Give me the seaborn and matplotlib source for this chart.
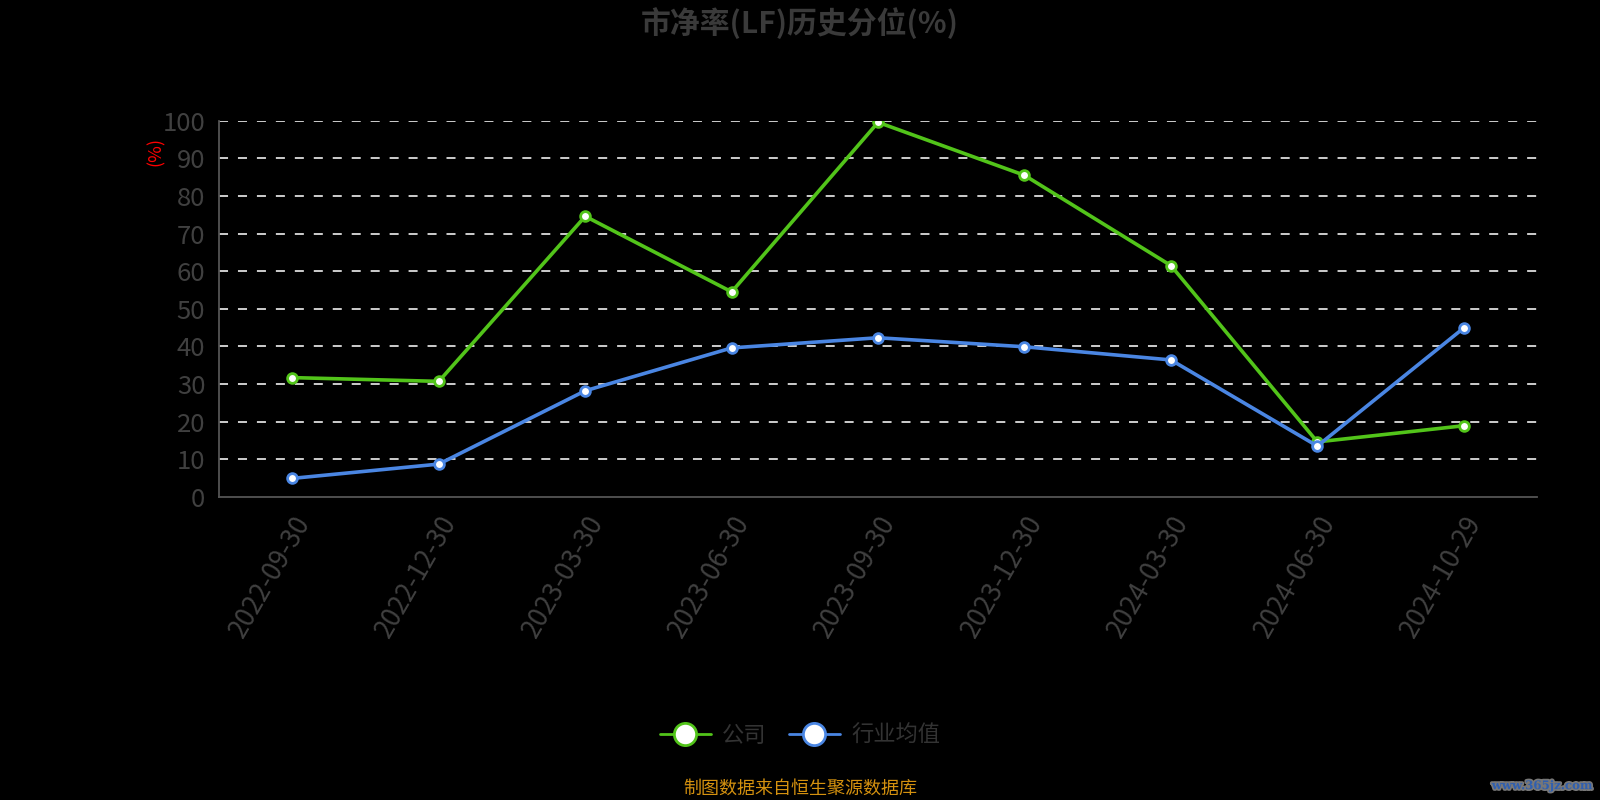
import matplotlib
matplotlib.use("Agg")
import matplotlib.pyplot as plt
import matplotlib.patheffects as pe
from matplotlib.lines import Line2D
import seaborn as sns
import pandas as pd

dates = ["2022-09-30", "2022-12-30", "2023-03-30", "2023-06-30", "2023-09-30",
         "2023-12-30", "2024-03-30", "2024-06-30", "2024-10-29"]
company = [31.7, 30.7, 74.6, 54.5, 99.6, 85.5, 61.5, 14.6, 18.9]
industry = [4.9, 8.7, 28.2, 39.6, 42.3, 39.9, 36.4, 13.5, 44.9]
series_names = ["公司", "行业均值"]
series_colors = ["#52c41a", "#4a86e3"]
title = "市净率(LF)历史分位(%)"
y_ticks = [0, 10, 20, 30, 40, 50, 60, 70, 80, 90, 100]
footnote = "制图数据来自恒生聚源数据库"
watermark = "www.365jz.com"

sns.set_style("dark")
plt.rcParams["font.family"] = ["Noto Sans CJK SC", "DejaVu Sans"]

fig = plt.figure(figsize=(16, 8), dpi=100, facecolor="black")
ax = fig.add_axes([0.137, 0.379, 0.8236, 0.470])
ax.set_facecolor("black")

df = pd.DataFrame({
    "date": dates * 2,
    "pos": list(range(len(dates))) * 2,
    "value": company + industry,
    "series": [series_names[0]] * len(dates) + [series_names[1]] * len(dates),
})

for y in y_ticks[1:]:
    ax.axhline(y, color="#dddddd", lw=1.3, ls=(0, (5, 5.5)), zorder=1)

sns.lineplot(data=df, x="pos", y="value", hue="series",
             palette=dict(zip(series_names, series_colors)),
             lw=2.6, marker="o", markersize=7, markerfacecolor="white",
             markeredgewidth=2.0, legend=False, ax=ax, zorder=3)
for line, c in zip(ax.get_lines()[-2:], series_colors):
    line.set_markeredgecolor(c)

ax.set_xlim(-0.5, len(dates) - 0.5)
ax.set_ylim(0, 100)
ax.set_yticks(y_ticks)
ax.set_yticklabels([str(v) for v in y_ticks], fontsize=18.5, color="#404040")
ax.set_xticks(range(len(dates)))
ax.set_xticklabels(dates, rotation=60, ha="right", rotation_mode="anchor",
                   fontsize=19, color="#404040")
ax.set_xticks([i - 0.5 for i in range(len(dates) + 1)], minor=True)
ax.tick_params(axis="x", which="major", length=0, pad=10)
ax.tick_params(axis="x", which="minor", length=7, color="#555555", width=1.3)
ax.tick_params(axis="y", which="major", length=7, color="#555555", width=1.3, pad=3)
ax.grid(False)
for s in ["top", "right"]:
    ax.spines[s].set_visible(False)
for s in ["left", "bottom"]:
    ax.spines[s].set_color("#555555")
    ax.spines[s].set_linewidth(1.3)
ax.set_xlabel("")
ax.set_ylabel("")

fig.text(0.0975, 0.81, "(%)", color="red", rotation=90, fontsize=13,
         ha="center", va="center")
fig.text(0.5, 0.971, title, color="#3a3a3a", fontsize=21.5, fontweight="bold",
         ha="center", va="center")

handles = [Line2D([], [], color=c, lw=2, marker="o", markersize=16,
                  markerfacecolor="white", markeredgecolor=c, markeredgewidth=2)
           for c in series_colors]
leg = fig.legend(handles, series_names, loc="center", bbox_to_anchor=(0.5, 0.081),
                 ncol=2, frameon=False, fontsize=16, handlelength=2.3,
                 columnspacing=1.0, handletextpad=0.5)
for t in leg.get_texts():
    t.set_color("#333333")

fig.text(0.5, 0.014, footnote, color="#d4910f", fontsize=13, ha="center", va="center")
fig.text(0.995, 0.018, watermark, color="#2f5fb0", fontsize=8.5, fontweight="bold",
         family=["DejaVu Serif"], ha="right", va="center",
         path_effects=[pe.withStroke(linewidth=2.5, foreground="#777777")])

fig.savefig("out.png", dpi=100, facecolor="black")
